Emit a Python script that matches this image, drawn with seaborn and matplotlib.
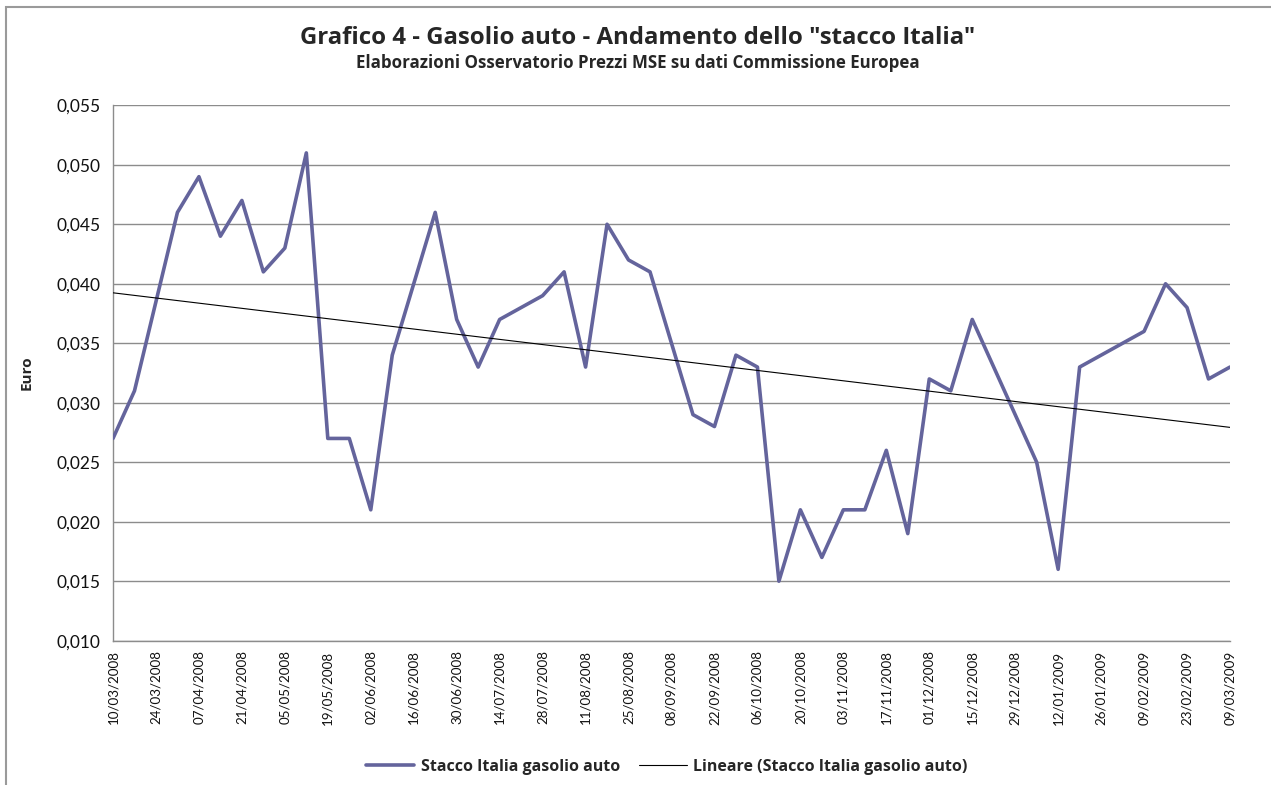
import numpy as np
import pandas as pd
import matplotlib
matplotlib.use("Agg")
import matplotlib.pyplot as plt
import matplotlib.dates as mdates
from matplotlib.lines import Line2D
from matplotlib.patches import Rectangle
import seaborn as sns

# ---- data ----
dates = ["10/03/2008", "17/03/2008", "31/03/2008", "07/04/2008", "14/04/2008",
         "21/04/2008", "28/04/2008", "05/05/2008", "12/05/2008", "19/05/2008",
         "26/05/2008", "02/06/2008", "09/06/2008", "23/06/2008", "30/06/2008",
         "07/07/2008", "14/07/2008", "28/07/2008", "04/08/2008", "11/08/2008",
         "18/08/2008", "25/08/2008", "01/09/2008", "15/09/2008", "22/09/2008",
         "29/09/2008", "06/10/2008", "13/10/2008", "20/10/2008", "27/10/2008",
         "03/11/2008", "10/11/2008", "17/11/2008", "24/11/2008", "01/12/2008",
         "08/12/2008", "15/12/2008", "05/01/2009", "12/01/2009", "19/01/2009",
         "09/02/2009", "16/02/2009", "23/02/2009", "02/03/2009", "09/03/2009"]
stacco = [0.027, 0.031, 0.046, 0.049, 0.044,
          0.047, 0.041, 0.043, 0.051, 0.027,
          0.027, 0.021, 0.034, 0.046, 0.037,
          0.033, 0.037, 0.039, 0.041, 0.033,
          0.045, 0.042, 0.041, 0.029, 0.028,
          0.034, 0.033, 0.015, 0.021, 0.017,
          0.021, 0.021, 0.026, 0.019, 0.032,
          0.031, 0.037, 0.025, 0.016, 0.033,
          0.036, 0.040, 0.038, 0.032, 0.033]
trend_dates = ["10/03/2008", "09/03/2009"]
trend_values = [0.03924, 0.02793]

tick_start, tick_end = "10/03/2008", "09/03/2009"
y_ticks = [0.010, 0.015, 0.020, 0.025, 0.030, 0.035, 0.040, 0.045, 0.050, 0.055]

title = 'Grafico 4 - Gasolio auto - Andamento dello "stacco Italia"'
subtitle = "Elaborazioni Osservatorio Prezzi MSE su dati Commissione Europea"
series_name = "Stacco Italia gasolio auto"
trend_name = "Lineare (Stacco Italia gasolio auto)"

df = pd.DataFrame({"data": pd.to_datetime(dates, dayfirst=True), "valore": stacco})
tr = pd.DataFrame({"data": pd.to_datetime(trend_dates, dayfirst=True), "valore": trend_values})

# ---- style ----
sns.set_style("white")
plt.rcParams["font.family"] = ["Lato", "DejaVu Sans"]
bold_font = ["Open Sans", "DejaVu Sans"]

W, H = 1271, 785
fig = plt.figure(figsize=(W / 100, H / 100), dpi=100)
ax = fig.add_axes([113 / W, 1 - 640.7 / H, (1230 - 113) / W, (640.7 - 105.3) / H])

line_color = "#64649C"
grid_color = "#8C8C8C"

sns.lineplot(data=df, x="data", y="valore", ax=ax, color=line_color, lw=2.6,
             legend=False, zorder=3)
sns.lineplot(data=tr, x="data", y="valore", ax=ax, color="black", lw=0.8,
             legend=False, zorder=4)

x0 = pd.to_datetime(tick_start, dayfirst=True)
x1 = pd.to_datetime(tick_end, dayfirst=True)
ax.set_xlim(x0, x1)
ax.set_ylim(y_ticks[0], y_ticks[-1])
ax.set_yticks(y_ticks)
ax.set_yticklabels([f"{v:.3f}".replace(".", ",") for v in y_ticks], fontsize=12.5)

xt = list(pd.date_range(x0, x1, freq="14D"))
if xt[-1] != x1:
    xt.append(x1)
ax.set_xticks(xt)
ax.set_xticklabels([d.strftime("%d/%m/%Y") for d in xt], rotation=90, fontsize=9.6)

ax.grid(axis="y", color=grid_color, lw=1.0)
ax.grid(axis="x", visible=False)
for s in ["top", "right"]:
    ax.spines[s].set_visible(False)
for s in ["left", "bottom"]:
    ax.spines[s].set_color(grid_color)
    ax.spines[s].set_linewidth(1.0)
ax.tick_params(axis="both", which="major", length=5, width=1.0, color=grid_color,
               direction="out", pad=3, labelcolor="#111111")
ax.tick_params(axis="x", pad=2)
ax.tick_params(axis="y", pad=4)
ax.set_xlabel("")
ax.set_ylabel("Euro", fontsize=11, fontweight="bold", family=bold_font)
ax.yaxis.set_label_coords((27 - 113) / (1230 - 113), 0.5)
ax.yaxis.label.set_va("center")

fig.text(638 / W, 1 - 38 / H, title, ha="center", va="center", fontsize=17.3,
         fontweight="bold", family=bold_font)
fig.text(638 / W, 1 - 63 / H, subtitle, ha="center", va="center", fontsize=12.2,
         fontweight="bold", family=bold_font)

handles = [Line2D([], [], color=line_color, lw=2.6),
           Line2D([], [], color="black", lw=0.8)]
fig.legend(handles, [series_name, trend_name], loc="center",
           bbox_to_anchor=(667 / W, 1 - 767 / H), ncol=2, frameon=False,
           prop={"weight": "bold", "size": 11.5, "family": bold_font},
           handlelength=3.0, handletextpad=0.4, columnspacing=1.2)

fig.patches.append(Rectangle((6 / W, -0.1), 1.2, 1 - 7 / H + 0.1,
                             transform=fig.transFigure, fill=False,
                             edgecolor="#9A9A9A", lw=1.5, zorder=0))

fig.savefig("out.png", dpi=100, facecolor="white")
